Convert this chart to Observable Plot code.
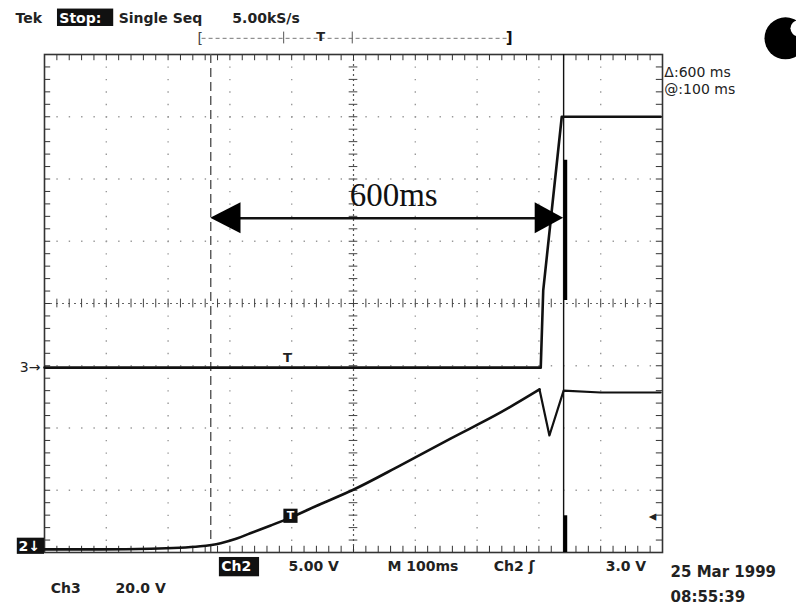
<!DOCTYPE html>
<html><head><meta charset="utf-8">
<script src="https://cdn.jsdelivr.net/npm/d3@7"></script>
<script src="https://cdn.jsdelivr.net/npm/@observablehq/plot@0.6"></script>
<style>body{margin:0;background:#fff} svg{display:block}</style>
</head><body><div id="chart"></div>
<script>
// Horizontal unit: divisions (M 100ms / div); vertical unit: divisions
const rampX = [0, 0.91, 1.72, 2.52, 2.85, 3.1, 3.33, 3.65, 3.98, 4.47, 4.98, 5.76, 6.57, 7.38, 8.01];
const rampY = [0.05, 0.05, 0.06, 0.10, 0.15, 0.22, 0.31, 0.43, 0.56, 0.78, 1.00, 1.40, 1.83, 2.25, 2.62];
const dipX = [8.01, 8.17, 8.40, 9.0, 9.97];
const dipY = [2.62, 1.88, 2.60, 2.57, 2.57];
const ch3X = [0, 8.03, 8.07, 8.37, 9.97];
const ch3Y = [2.97, 2.97, 4.21, 7.0, 7.0];
const cursorA = 2.69;
const cursorB = 8.40;
const arrowY = 5.37;
const arrowLabel = "600ms";
const headerTexts = ["Tek", "Stop:", "Single Seq", "5.00kS/s"];
const readouts = ["Δ:600 ms", "@:100 ms"];
const footerTexts = ["Ch2", "5.00 V", "M 100ms", "Ch2 ʃ", "3.0 V", "Ch3", "20.0 V", "25 Mar 1999", "08:55:39"];

const pts = (xs, ys) => xs.map((x, i) => ({x, y: ys[i]}));
const minorX = d3.range(0, 10.001, 0.2);
const minorY = d3.range(0, 8.001, 0.2);
const FONT = "DejaVu Sans";

const boldLabels = [
  {t: headerTexts[0], x: -0.47, y: 8.58, c: "#222"},
  {t: headerTexts[1], x: 0.24, y: 8.58, c: "#fff"},
  {t: headerTexts[2], x: 1.20, y: 8.58, c: "#222"},
  {t: headerTexts[3], x: 3.04, y: 8.58, c: "#222"},
  {t: footerTexts[0], x: 2.86, y: -0.23, c: "#fff"},
  {t: footerTexts[1], x: 3.95, y: -0.23, c: "#222"},
  {t: footerTexts[2], x: 5.55, y: -0.23, c: "#222"},
  {t: footerTexts[3], x: 7.27, y: -0.23, c: "#222"},
  {t: footerTexts[4], x: 9.08, y: -0.23, c: "#222"},
  {t: footerTexts[5], x: 0.10, y: -0.58, c: "#222"},
  {t: footerTexts[6], x: 1.15, y: -0.58, c: "#222"},
  {t: "2↓", x: -0.42, y: 0.09, c: "#fff"}
];
const dateLabels = [
  {t: footerTexts[7], x: 10.13, y: -0.32},
  {t: footerTexts[8], x: 10.13, y: -0.72}
];
const plainLabels = [
  {t: readouts[0], x: 10.03, y: 7.71},
  {t: readouts[1], x: 10.03, y: 7.44},
  {t: "3→", x: -0.40, y: 2.97}
];
const boxes = [
  {x1: 0.21, x2: 1.12, y1: 8.45, y2: 8.73},
  {x1: 2.83, x2: 3.48, y1: -0.08, y2: -0.39},
  {x1: -0.44, x2: 0, y1: -0.03, y2: 0.23}
];

const chart = Plot.plot({
  width: 796, height: 608,
  marginLeft: 44, marginRight: 134, marginTop: 54, marginBottom: 56,
  x: {domain: [0, 10], axis: null},
  y: {domain: [0, 8], axis: null},
  style: {background: "#fff", fontFamily: FONT},
  marks: [
    Plot.ruleX([1,2,3,4,6,7,8,9], {stroke: "#999", strokeWidth: 1.4, strokeDasharray: "1.4,11.05"}),
    Plot.ruleY([1,2,3,5,6,7], {stroke: "#999", strokeWidth: 1.4, strokeDasharray: "1.4,10.96"}),
    Plot.ruleX([5], {stroke: "#555", strokeWidth: 1.2, strokeDasharray: "2,3"}),
    Plot.ruleY([4], {stroke: "#666", strokeWidth: 1.2, strokeDasharray: "2,4"}),
    Plot.ruleX(minorX, {x: d => d, y1: 3.93, y2: 4.07, stroke: "#444"}),
    Plot.ruleY(minorY, {y: d => d, x1: 4.93, x2: 5.07, stroke: "#444"}),
    Plot.ruleX(minorX, {x: d => d, y1: 8, y2: 7.9, stroke: "#333"}),
    Plot.ruleX(minorX, {x: d => d, y1: 0, y2: 0.1, stroke: "#333"}),
    Plot.ruleY(minorY, {y: d => d, x1: 0, x2: 0.1, stroke: "#333"}),
    Plot.ruleY(minorY, {y: d => d, x1: 10, x2: 9.9, stroke: "#333"}),
    Plot.frame({stroke: "#333", strokeWidth: 1.6}),
    // cursors
    Plot.ruleX([cursorA], {stroke: "#555", strokeWidth: 1.4, strokeDasharray: "9,5"}),
    Plot.ruleX([cursorB], {stroke: "#111", strokeWidth: 1.4}),
    Plot.ruleX([{x: cursorB + 0.03, y1: 4.05, y2: 6.30}, {x: cursorB + 0.03, y1: 0, y2: 0.59}], {x: "x", y1: "y1", y2: "y2", stroke: "#000", strokeWidth: 3.5}),
    // traces
    Plot.line(pts(ch3X, ch3Y), {x: "x", y: "y", stroke: "#111", strokeWidth: 2.6}),
    Plot.line(pts(rampX, rampY), {x: "x", y: "y", stroke: "#111", strokeWidth: 2.6, curve: "monotone-x"}),
    Plot.line(pts(dipX, dipY), {x: "x", y: "y", stroke: "#111", strokeWidth: 2.2}),
    // delta arrow
    Plot.ruleY([arrowY], {x1: cursorA + 0.3, x2: cursorB - 0.3, stroke: "#111", strokeWidth: 2.6}),
    Plot.areaY([{x: cursorA, y1: arrowY, y2: arrowY}, {x: cursorA + 0.49, y1: arrowY - 0.25, y2: arrowY + 0.25}], {x: "x", y1: "y1", y2: "y2", fill: "#000"}),
    Plot.areaY([{x: cursorB - 0.46, y1: arrowY - 0.25, y2: arrowY + 0.25}, {x: cursorB, y1: arrowY, y2: arrowY}], {x: "x", y1: "y1", y2: "y2", fill: "#000"}),
    Plot.text([arrowLabel], {x: 5.65, y: 5.73, text: d => d, fontSize: 33, fontFamily: "Liberation Serif", fill: "#111"}),
    // trigger markers
    Plot.text(["T"], {x: 3.93, y: 3.13, text: d => d, fontSize: 13, fontWeight: "bold", fill: "#222"}),
    Plot.dot([{x: 3.98, y: 0.59}], {x: "x", y: "y", symbol: "square", r: 8, fill: "#111"}),
    Plot.text(["T"], {x: 3.98, y: 0.59, text: d => d, fontSize: 11, fontWeight: "bold", fill: "#fff"}),
    Plot.text(["◂"], {x: 9.84, y: 0.58, text: d => d, fontSize: 15, fill: "#222"}),
    // record position bar
    Plot.ruleY([8.26], {x1: 2.55, x2: 7.50, stroke: "#777", strokeWidth: 1, strokeDasharray: "4,3"}),
    Plot.ruleX([3.87, 4.98], {y1: 8.17, y2: 8.36, stroke: "#555"}),
    Plot.text(["["], {x: 2.52, y: 8.26, text: d => d, fontSize: 14, fill: "#444"}),
    Plot.text(["]"], {x: 7.52, y: 8.26, text: d => d, fontSize: 15, fontWeight: "bold", fill: "#111"}),
    Plot.text(["T"], {x: 4.47, y: 8.29, text: d => d, fontSize: 13, fontWeight: "bold", fill: "#222"}),
    // disc logo
    Plot.dot([{x: 11.99, y: 8.26}], {x: "x", y: "y", r: 21, fill: "#000"}),
    Plot.dot([{x: 12.20, y: 8.42}], {x: "x", y: "y", r: 8, fill: "#fff"}),
    // label boxes and texts
    Plot.rect(boxes, {x1: "x1", x2: "x2", y1: "y1", y2: "y2", fill: "#111"}),
    Plot.text(boldLabels, {x: "x", y: "y", text: "t", textAnchor: "start", fontSize: 14, fontWeight: "bold", fill: "c"}),
    Plot.text(dateLabels, {x: "x", y: "y", text: "t", textAnchor: "start", fontSize: 15, fontWeight: "bold", fill: "#222"}),
    Plot.text(plainLabels, {x: "x", y: "y", text: "t", textAnchor: "start", fontSize: 14, fill: "#222"})
  ]
});
document.getElementById("chart").append(chart);
</script>
</body></html>
